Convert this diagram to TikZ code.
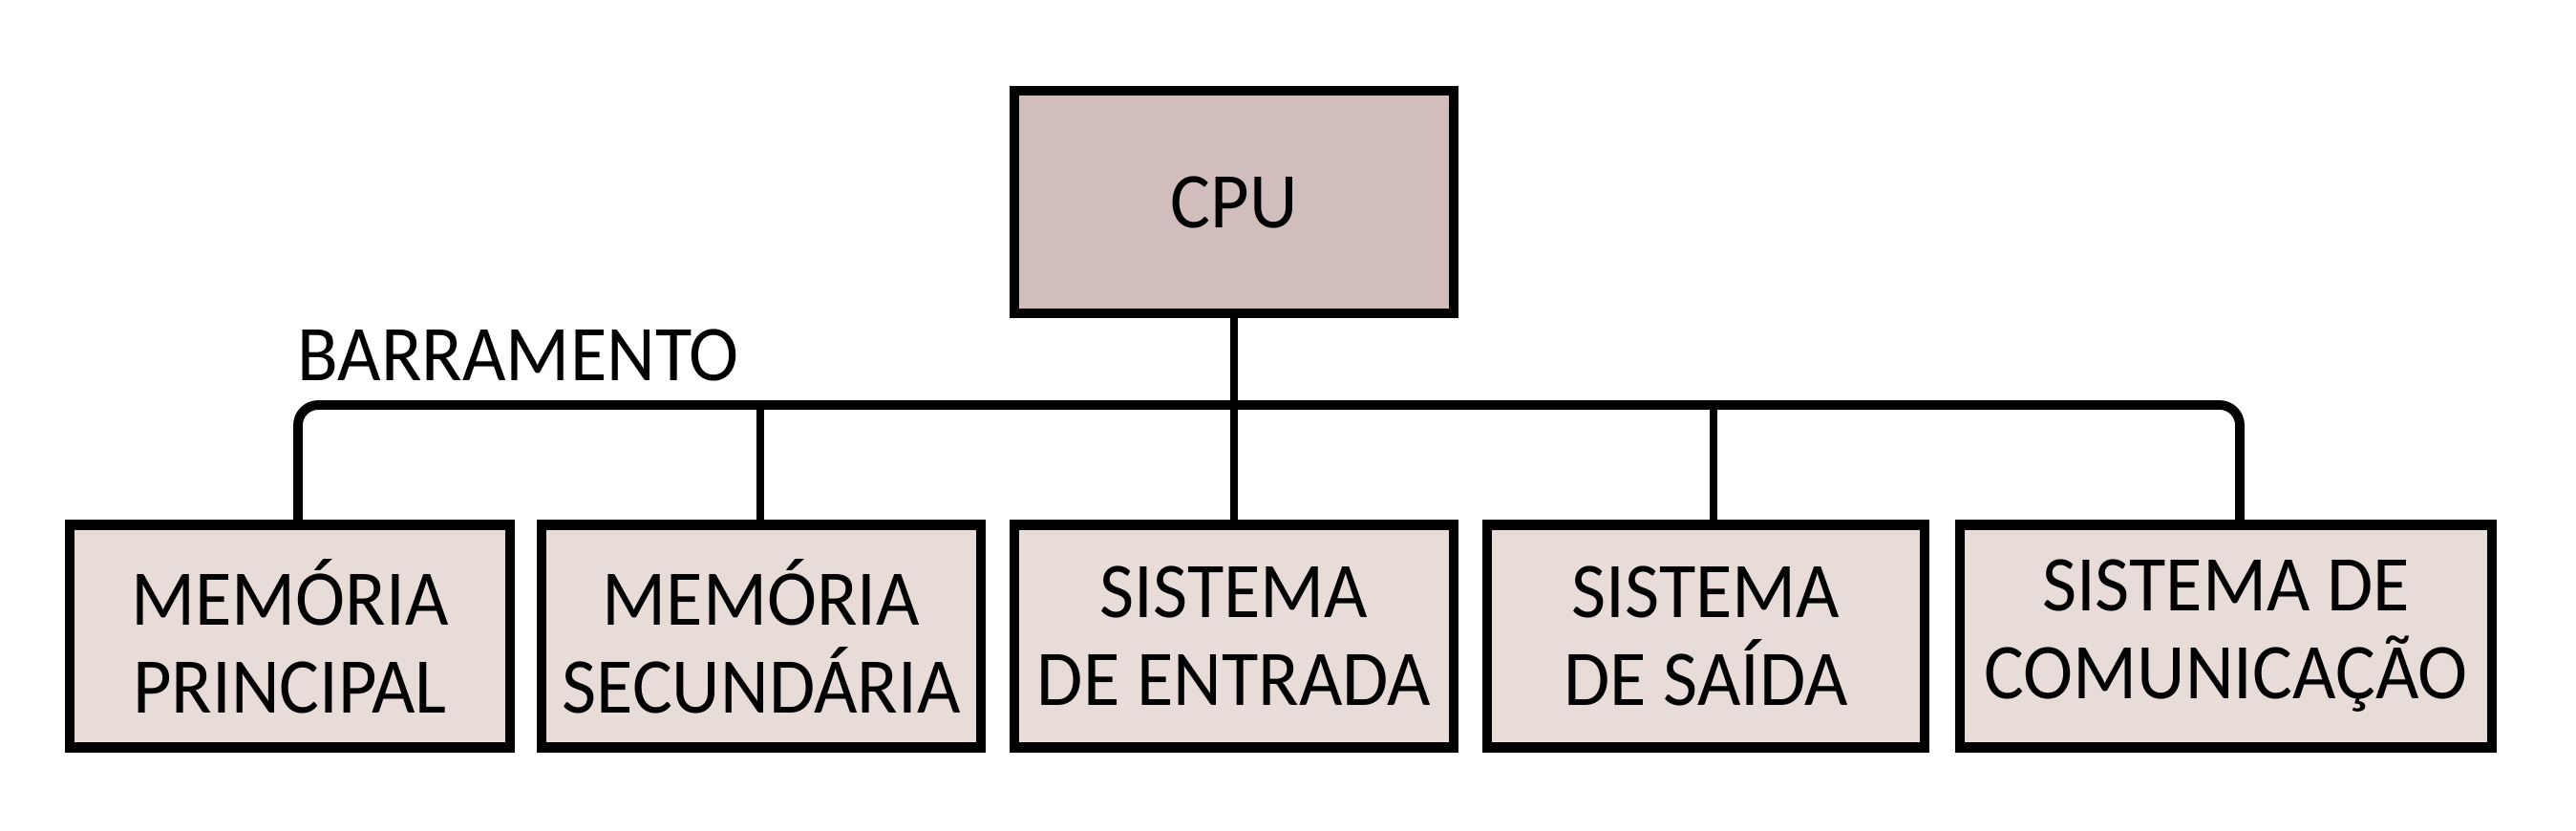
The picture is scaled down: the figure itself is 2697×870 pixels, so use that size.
\documentclass[tikz,border=0pt]{standalone}
\usepackage{fontspec}
\setmainfont{Carlito}[FakeStretch=0.95]
\definecolor{cpufill}{HTML}{D1BEBC}
\definecolor{boxfill}{HTML}{E8DCD8}
\begin{document}
\begin{tikzpicture}[x=0.01cm,y=-0.01cm,
  txt/.style={font=\fontsize{23.5}{26.2}\selectfont},
  unit/.style={draw=black, line width=2.9pt, fill=boxfill, minimum height=2.33cm,
    inner sep=0pt, align=center, txt},
  cpubox/.style={unit, fill=cpufill},
  wire/.style={draw=black, line width=2.4pt, line cap=round, line join=round},
  buswire/.style={wire, line width=2.8pt, rounded corners=6pt}]
\useasboundingbox (0,0) rectangle (2697,870);
% nodes
\node[cpubox, minimum width=4.60cm] (cpu) at (1292,211.5) {CPU};
\node[unit, minimum width=4.61cm] (b1) at (303.5,666) {MEMÓRIA\\PRINCIPAL};
\node[unit, minimum width=4.60cm] (b2) at (797,666) {MEMÓRIA\\SECUNDÁRIA};
\node[unit, minimum width=4.60cm] (b3) at (1292,666) {SISTEMA\\DE ENTRADA};
\node[unit, minimum width=4.58cm] (b4) at (1786,666) {SISTEMA\\DE SAÍDA};
\node[unit, minimum width=5.57cm] (b5) at (2330.5,666) {SISTEMA DE\\COMUNICAÇÃO};
\node[txt, anchor=base west, inner sep=0pt] (lbl) at (311,398) {BARRAMENTO};
% bus junctions
\coordinate (j1) at (312,424);
\coordinate (j2) at (796,424);
\coordinate (j3) at (1292,424);
\coordinate (j4) at (1794,424);
\coordinate (j5) at (2345,424);
% bus
\draw[buswire] (j1 |- b1.north) -- (j1) -- (j5) -- (j5 |- b5.north);
% stems
\draw[wire] (cpu.south) -- (j3);
\draw[wire] (j2) -- (j2 |- b2.north);
\draw[wire] (j3) -- (b3.north);
\draw[wire] (j4) -- (j4 |- b4.north);
\end{tikzpicture}
\end{document}
